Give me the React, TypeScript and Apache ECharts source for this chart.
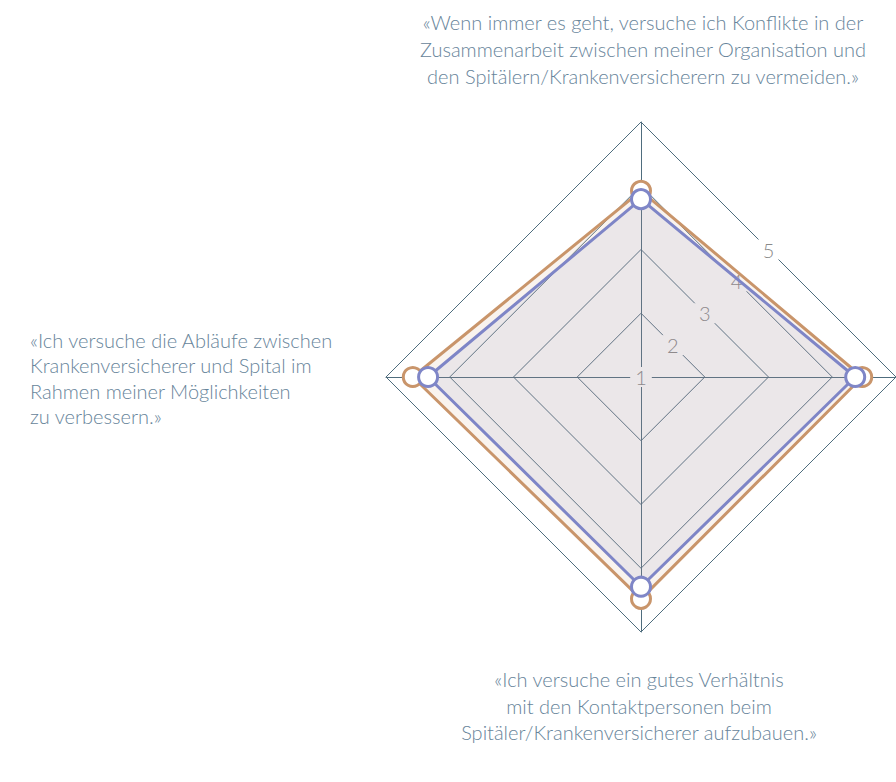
import React, { useEffect, useRef } from "react";
import * as echarts from "echarts";

const indicatorNames = [
  "«Wenn immer es geht, versuche ich Konflikte in der\nZusammenarbeit zwischen meiner Organisation und\nden Spitälern/Krankenversicherern zu vermeiden.»",
  "«Ich versuche die Abläufe zwischen\nKrankenversicherer und Spital im\nRahmen meiner Möglichkeiten\nzu verbessern.»",
  "«Ich versuche ein gutes Verhältnis\nmit den Kontaktpersonen beim\nSpitäler/Krankenversicherer aufzubauen.»",
  "",
];
const scaleMin = 1;
const scaleMax = 5;
const tickLabels = ["1", "2", "3", "4", "5"];
const seriesOrange = [3.92, 4.58, 4.48, 4.47];
const seriesBlue = [3.79, 4.34, 4.29, 4.36];

const TEXT = "#67849a";
const GRID = "#4f6d7e";

export default function App() {
  const ref = useRef<HTMLDivElement>(null);
  useEffect(() => {
    document.body.style.margin = "0";
    const chart = echarts.init(ref.current!, null, { renderer: "svg" });
    const font = "Lato";
    const titleStyle = {
      fontFamily: font,
      fontWeight: 300 as any,
      fontSize: 20,
      color: TEXT,
    };
    chart.setOption({
      animation: false,
      backgroundColor: "#fff",
      title: [
        {
          text: indicatorNames[0],
          left: 643,
          top: 8,
          textAlign: "center",
          padding: 0,
          textStyle: { ...titleStyle, lineHeight: 27, align: "center" },
        },
        {
          text: indicatorNames[1],
          left: 30,
          top: 327,
          padding: 0,
          textStyle: { ...titleStyle, lineHeight: 25.5, align: "left" },
        },
        {
          text: indicatorNames[2],
          left: 639,
          top: 666,
          textAlign: "center",
          padding: 0,
          textStyle: { ...titleStyle, lineHeight: 26.5, align: "center" },
        },
      ],
      radar: [
        {
          z: 0,
          center: [641, 377],
          radius: 255,
          startAngle: 90,
          shape: "polygon",
          splitNumber: 4,
          indicator: indicatorNames.map(() => ({ name: "", min: scaleMin, max: scaleMax })),
          axisName: { show: false },
          axisLine: { lineStyle: { color: GRID, width: 1 } },
          splitLine: { lineStyle: { color: GRID, width: 1 } },
          splitArea: { show: false },
          axisLabel: { show: false },
        },
        {
          z: 1,
          center: [641, 377],
          radius: 255 / Math.SQRT2,
          startAngle: 45,
          shape: "polygon",
          splitNumber: 4,
          indicator: [0, 1, 2, 3].map((i) => ({
            name: "",
            min: scaleMin,
            max: scaleMax,
            axisLabel: { show: i === 0 },
          })),
          axisName: { show: false },
          axisLine: { show: false },
          splitLine: { show: false },
          splitArea: { show: false },
          axisTick: { show: false },
          axisLabel: {
            show: true,
            margin: 0,
            align: "center",
            verticalAlign: "middle",
            fontFamily: font,
            fontWeight: 300,
            fontSize: 20,
            color: "#8a8a8a",
            backgroundColor: "#ffffff",
            padding: [0, 5, 0, 5],
            formatter: (v: number) => tickLabels[Math.round(v) - scaleMin] ?? String(v),
          },
        },
      ],
      series: [
        {
          type: "radar",
          radarIndex: 0,
          z: 2,
          symbol: "circle",
          symbolSize: 19,
          data: [
            {
              value: seriesOrange,
              name: "A",
              lineStyle: { color: "#c9956b", width: 3 },
              itemStyle: { color: "#ffffff", borderColor: "#c9956b", borderWidth: 3 },
              areaStyle: { color: "rgba(201,149,107,0.16)" },
            },
          ],
        },
        {
          type: "radar",
          radarIndex: 0,
          z: 3,
          symbol: "circle",
          symbolSize: 19,
          data: [
            {
              value: seriesBlue,
              name: "B",
              lineStyle: { color: "#7f86c7", width: 3 },
              itemStyle: { color: "#ffffff", borderColor: "#7f86c7", borderWidth: 3 },
              areaStyle: { color: "rgba(127,134,199,0.15)" },
            },
          ],
        },
      ],
    });
    return () => chart.dispose();
  }, []);
  return <div ref={ref} style={{ width: 896, height: 782 }} />;
}
